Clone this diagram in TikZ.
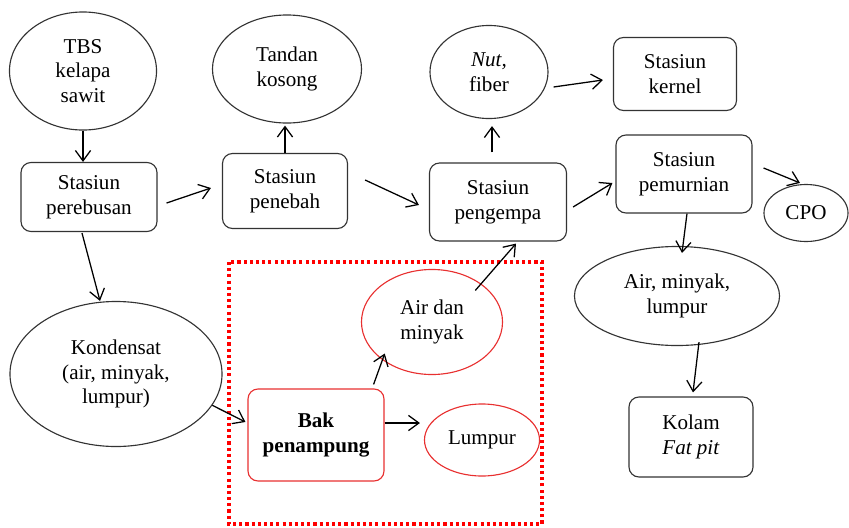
\documentclass[tikz,border=0pt]{standalone}
\usepackage{fontspec}
\setmainfont{Liberation Serif}
\usetikzlibrary{calc}
\usetikzlibrary{shapes.geometric}
\usetikzlibrary{arrows.meta}
\definecolor{tankred}{RGB}{232,48,48}
\tikzset{
    % Open barbed heads, as on the flow lines of the chart
    >={Straight Barb[length=2.6mm, width=3.8mm]},
%
    % A processing station of the mill
    station box/.style={
        draw=black!80, line width=0.8pt, rounded corners=2.5mm,
        align=center, inner sep=0},
%
    % A product leaving a station
    product/.style={
        draw=black!80, line width=0.8pt, ellipse, align=center, inner sep=0},
%
    % Items that belong to the holding tank
    tank mark/.style={draw=tankred},
%
    % The flow lines between stations and products
    flow/.style={->, line width=0.9pt}}

\begin{document}
\begin{tikzpicture}[x=0.025cm, y=-0.025cm]
\fontsize{15}{17.5}\selectfont
\useasboundingbox (0,0) rectangle (849,527);

% Holding tank area
\draw [red, line width=2.4pt, dash pattern=on 2.2pt off 2.2pt]
    (229,262) rectangle (542,524);

% Fresh fruit bunches, sterilising and threshing
\node [product, minimum width=3.675cm, minimum height=2.95cm]
    (tbs) at (83,71) {TBS\\kelapa\\sawit};
\node [station box, minimum width=3.4cm, minimum height=1.725cm]
    (perebusan) at (89,197) {Stasiun\\perebusan};
\node [product, minimum width=3.725cm, minimum height=2.7cm]
    (tandan) at (287,69) {Tandan\\kosong};
\node [station box, minimum width=3.125cm, minimum height=1.875cm]
    (penebah) at (285,191) {Stasiun\\penebah};

\draw [flow] (tbs.south) -- (tbs.south |- perebusan.north);
\draw [flow] ($(perebusan.east)+(9,6)$) -- ($(penebah.west)+(-11,-3)$);
\draw [flow] (penebah.north) -- ($(penebah.north |- tandan.south)+(0,2)$);


% Pressing and kernel
\node [station box, minimum width=3.425cm, minimum height=1.95cm]
    (pengempa) at (498,202) {Stasiun\\pengempa};
\node [product, minimum width=2.95cm, minimum height=2.325cm]
    (nut) at (489,72) {\textit{Nut,}\\fiber};
\node [station box, minimum width=3.075cm, minimum height=1.825cm]
    (kernel) at (675,74) {Stasiun\\kernel};

\draw [flow] ($(penebah.east)+(17,-11)$) -- ($(pengempa.west)+(-10,3)$);
\draw [flow] ($(pengempa.north)+(-6,-10)$) -- ($(nut.south)+(3,7)$);
\draw [flow] ($(nut.east)+(5,15)$) -- ($(kernel.west)+(-10,6)$);


% Clarification, oil and fat pit
\node [station box, minimum width=3.4cm, minimum height=1.95cm]
    (pemurnian) at (684,174) {Stasiun\\pemurnian};
\node [product, minimum width=2.1cm, minimum height=1.425cm]
    (cpo) at (806,213) {CPO};
\node [product, minimum width=5.125cm, minimum height=2.475cm]
    (residu) at (677,296) {Air, minyak,\\lumpur};
\node [station box, minimum width=3.1cm, minimum height=2cm]
    (kolam) at (691,437) {Kolam\\\textit{Fat pit}};

\draw [flow] ($(pengempa.east)+(6,5)$) -- ($(pemurnian.west)+(-3,9)$);
\draw [flow] ($(pemurnian.east)+(11,-6)$) -- ($(cpo.north)+(-6,-1)$);
\draw [flow] ($(pemurnian.south)+(3,0)$) -- ($(residu.north)+(5,7)$);
\draw [flow] ($(residu.south)+(22,-4)$) -- ($(kolam.north)+(2,-4)$);


% Condensate and the holding tank
\node [product, minimum width=5.3cm, minimum height=3.625cm]
    (kondensat) at (116,374) {Kondensat\\(air, minyak,\\lumpur)};
\node [station box, tank mark, minimum width=3.4cm, minimum height=2.3cm]
    (bak) at (316,435) {\textbf{Bak}\\\textbf{penampung}};
\node [product, tank mark, minimum width=3.525cm, minimum height=2.625cm]
    (airminyak) at (432,322) {Air dan\\minyak};
\node [product, tank mark, minimum width=2.875cm, minimum height=1.8cm]
    (lumpur) at (482,440) {Lumpur};

\draw [flow] ($(perebusan.south)+(-7,1)$) -- ($(kondensat.north)+(-16,0)$);
\draw [flow] (kondensat.-18) -- ($(bak.west)+(-2,-13)$);
\draw [flow] ($(bak.north east)+(-11,-4)$) -- ($(airminyak.south west)+(3,-6)$);
\draw [flow] ($(bak.east)+(0,-12)$) -- ($(lumpur.west)+(-4,-17)$);
\draw [flow] ($(airminyak.north east)+(-7,6)$) -- ($(pengempa.south)+(18,2)$);

\end{tikzpicture}
\end{document}
